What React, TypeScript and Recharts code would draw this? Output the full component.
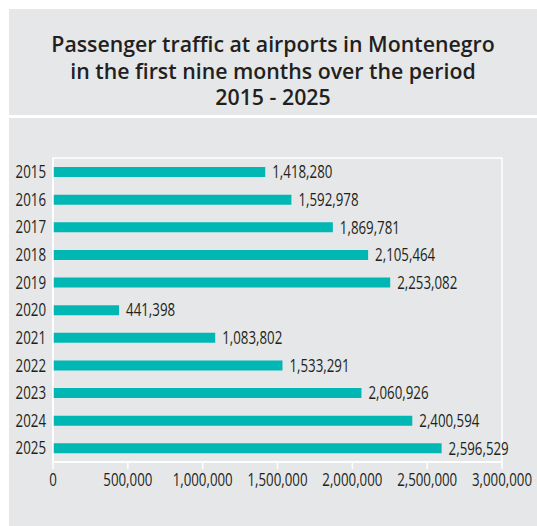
import React from 'react';
import { BarChart, Bar, XAxis, YAxis, LabelList, ReferenceArea } from 'recharts';

const years = ['2015', '2016', '2017', '2018', '2019', '2020', '2021', '2022', '2023', '2024', '2025'];
const passengers = [1418280, 1592978, 1869781, 2105464, 2253082, 441398, 1083802, 1533291, 2060926, 2400594, 2596529];
const xTicks = [0, 500000, 1000000, 1500000, 2000000, 2500000, 3000000];
const titleLines = ['Passenger traffic at airports in Montenegro', 'in the first nine months over the period', '2015 - 2025'];

const data = years.map((year, i) => ({ year, value: passengers[i] }));

const fmt = (v: number) => v.toLocaleString('en-US');
const textColor = '#231f20';
const panel = '#e6e7e8';
// no condensed face installed, so squeeze Open Sans horizontally
const narrow = { fontFamily: '"Open Sans", sans-serif', fontSize: 17.5, fill: textColor };
const squeeze = 0.76;

function XTick(props: any) {
  const { x, y, payload } = props;
  return (
    <g transform={`translate(${x},${y}) scale(${squeeze},1)`}>
      <text x={0} y={0} dy="0.71em" textAnchor="middle" style={narrow}>{fmt(payload.value)}</text>
    </g>
  );
}

function YTick(props: any) {
  const { x, y, payload } = props;
  return (
    <g transform={`translate(${x},${y}) scale(${squeeze},1)`}>
      <text x={0} y={0} dy="0.36em" textAnchor="end" style={narrow}>{payload.value}</text>
    </g>
  );
}

function ValueLabel(props: any) {
  const { x, y, width, height, value } = props;
  const lx = Number(x) + Number(width) + 7;
  const ly = Number(y) + Number(height) / 2;
  return (
    <g transform={`translate(${lx},${ly}) scale(${squeeze},1)`}>
      <text x={0} y={0} dy="0.36em" textAnchor="start" style={narrow}>{fmt(Number(value))}</text>
    </g>
  );
}

export default function App() {
  return (
    <div style={{ position: 'absolute', left: 0, top: 0, width: 537, height: 526, background: '#fff' }}>
      <div style={{ position: 'absolute', left: 9, top: 9, width: 528, height: 106, background: panel }}>
        <div style={{ position: 'absolute', left: 0, top: 22, width: 528, textAlign: 'center' }}>
          {titleLines.map((t) => (
            <div key={t} style={{ fontFamily: '"Open Sans", sans-serif', fontWeight: 600, fontSize: 21.3, lineHeight: '26.5px', color: textColor, whiteSpace: 'nowrap' }}>{t}</div>
          ))}
        </div>
      </div>
      <div style={{ position: 'absolute', left: 9, top: 118, width: 528, height: 408, background: panel }}>
        <BarChart width={528} height={408} data={data} layout="vertical" margin={{ top: 40, right: 35, bottom: 24, left: 0 }}>
          <ReferenceArea x1={0} x2={3000000} stroke="#ffffff" strokeWidth={1.5} fill="none" fillOpacity={0} />
          <XAxis type="number" domain={[0, 3000000]} ticks={xTicks} height={40} interval={0}
            axisLine={{ stroke: '#ffffff', strokeWidth: 1.5 }} tickLine={{ stroke: '#ffffff', strokeWidth: 1.5 }} tickSize={7} tickMargin={5}
            tick={XTick} />
          <YAxis type="category" dataKey="year" width={44} tickSize={0} tickMargin={7} tickLine={false}
            axisLine={{ stroke: '#ffffff', strokeWidth: 1.5 }}
            tick={YTick} />
          <Bar dataKey="value" fill="#00b7b3" barSize={10} isAnimationActive={false}>
            <LabelList dataKey="value" content={ValueLabel} />
          </Bar>
        </BarChart>
      </div>
    </div>
  );
}
